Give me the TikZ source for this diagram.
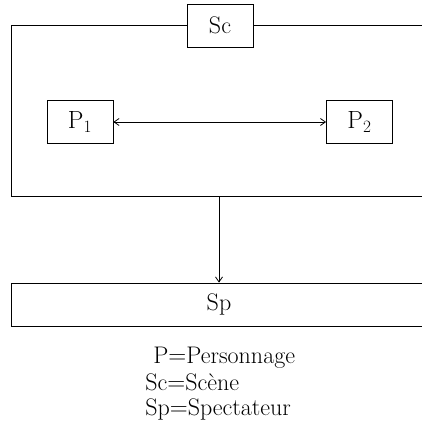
\documentclass[tikz,border=0pt]{standalone}
\usetikzlibrary{arrows.meta}
\begin{document}
\begin{tikzpicture}[x=1pt,y=-1pt,
  line width=0.8pt,
  txt/.style={font=\fontsize{24}{28}\selectfont},
  box/.style={draw,txt,minimum width=66pt,minimum height=43pt,inner sep=0pt},
  lbl/.style={txt,anchor=base west,inner sep=0pt},
  tip/.style={Straight Barb[length=5pt,width=7pt]},
  arr/.style={-{Straight Barb[length=5pt,width=7pt]}}]
\useasboundingbox (0,0) rectangle (422,423);
\clip (0,0) rectangle (422,423);
\node[box] (sc) at (220,25.5) {Sc};
\node[box] (p1) at (80,122) {$\mathrm{P}_1$};
\node[box] (p2) at (359.5,122) {$\mathrm{P}_2$};
\coordinate (tr) at (430,25.5);
\coordinate (br) at (430,196);
\coordinate (bl) at (11.5,196);
\coordinate (tl) at (11.5,25.5);
\draw (sc.east) -- (tr);
\draw (sc.west) -- (tl) -- (bl) -- (br);
\coordinate (vt) at (219,196);
\node[draw,minimum width=418pt,minimum height=43pt,inner sep=0pt,anchor=west] (sp) at (10.5,304.5) {};
\node[txt] (sptext) at (219,304.5) {Sp};
\draw[arr] (vt) -- (vt |- sp.north);
\draw[{Straight Barb[length=5pt,width=7pt]}-{Straight Barb[length=5pt,width=7pt]}] (p1.east) -- (p2.west);
\node[lbl] (l1) at (153,363) {P${=}$Personnage};
\node[lbl] (l2) at (145,390) {Sc${=}$Scène};
\node[lbl] (l3) at (145,415) {Sp${=}$Spectateur};
\end{tikzpicture}
\end{document}
